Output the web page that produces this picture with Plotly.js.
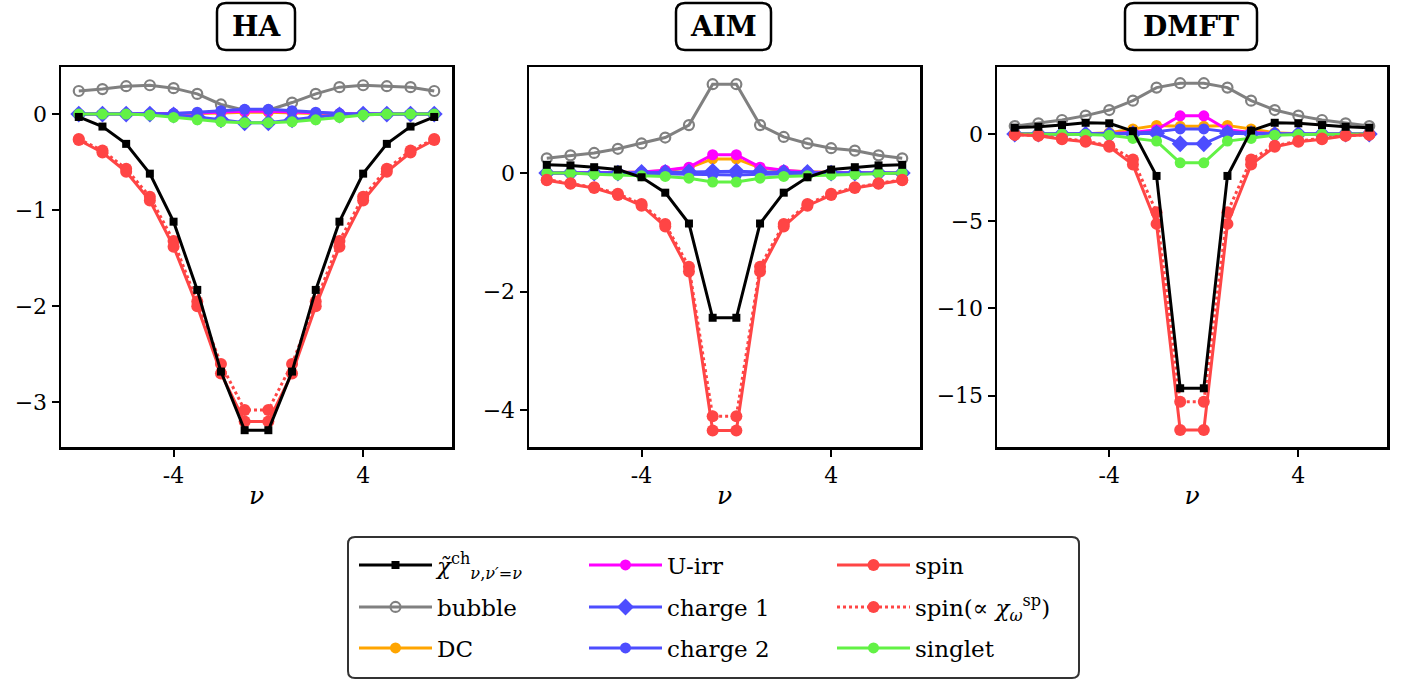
<!DOCTYPE html>
<html><head><meta charset="utf-8">
<script src="https://cdn.plot.ly/plotly-3.0.1.min.js"></script>
<style>html,body{margin:0;padding:0;background:#fff}#chart{width:1405px;height:682px}</style>
</head><body><div id="chart"></div>
<script>
// ---------------- data ----------------
const nu = [-8,-7,-6,-5,-4,-3,-2,-1,0,1,2,3,4,5,6,7];
const panelNames = ['HA','AIM','DMFT'];
const xTickVals = [-4, 4];
const xTickText = ['-4', '4'];
const yTickVals = [[0,-1,-2,-3],[0,-2,-4],[0,-5,-10,-15]];
const yTickText = [['0','\u22121','\u22122','\u22123'],['0','\u22122','\u22124'],['0','\u22125','\u221210','\u221215']];

// HA
const haChi      = [-0.03,-0.13,-0.31,-0.62,-1.12,-1.83,-2.68,-3.29,-3.29,-2.68,-1.83,-1.12,-0.62,-0.31,-0.13,-0.03];
const haBubble   = [0.24,0.26,0.29,0.30,0.27,0.21,0.10,0.04,0.04,0.12,0.21,0.28,0.30,0.29,0.28,0.24];
const haDC       = [0,0,0,0,0,0.005,0.01,0.02,0.02,0.01,0.005,0,0,0,0,0];
const haUirr     = [0,0,0,0,0.005,0.01,0.02,0.03,0.03,0.02,0.01,0.005,0,0,0,0];
const haCharge1  = [0,0,0,0,-0.01,-0.03,-0.06,-0.09,-0.09,-0.06,-0.03,-0.01,0,0,0,0];
const haCharge2  = [0,0,0,0,0.005,0.02,0.035,0.05,0.05,0.035,0.02,0.005,0,0,0,0];
const haSpin     = [-0.27,-0.40,-0.60,-0.90,-1.38,-2.00,-2.70,-3.20,-3.20,-2.70,-2.00,-1.38,-0.90,-0.60,-0.40,-0.27];
const haSpinProp = [-0.26,-0.38,-0.57,-0.86,-1.32,-1.95,-2.60,-3.08,-3.08,-2.60,-1.95,-1.32,-0.86,-0.57,-0.38,-0.26];
const haSinglet  = [0,0,0,-0.01,-0.035,-0.06,-0.08,-0.09,-0.09,-0.08,-0.06,-0.035,-0.01,0,0,0];

// AIM
const aimChi      = [0.14,0.13,0.10,0.06,-0.07,-0.33,-0.85,-2.44,-2.44,-0.85,-0.33,-0.07,0.06,0.10,0.13,0.14];
const aimBubble   = [0.25,0.30,0.34,0.41,0.50,0.60,0.81,1.50,1.50,0.81,0.61,0.50,0.42,0.38,0.30,0.25];
const aimDC       = [0,0,0,0.01,0.02,0.04,0.09,0.24,0.24,0.09,0.04,0.02,0.01,0,0,0];
const aimUirr     = [0,0,0,0.01,0.02,0.05,0.10,0.31,0.31,0.10,0.05,0.02,0.01,0,0,0];
const aimCharge1  = [0,0,0,0,0.01,0.01,0.02,0.03,0.03,0.02,0.01,0.01,0,0,0,0];
const aimCharge2  = [0,0,0,0,0,-0.01,-0.02,-0.03,-0.03,-0.02,-0.01,0,0,0,0,0];
const aimSpin     = [-0.12,-0.18,-0.25,-0.37,-0.55,-0.90,-1.66,-4.34,-4.34,-1.66,-0.90,-0.55,-0.37,-0.25,-0.18,-0.12];
const aimSpinProp = [-0.11,-0.17,-0.24,-0.35,-0.52,-0.86,-1.58,-4.10,-4.10,-1.58,-0.86,-0.52,-0.35,-0.24,-0.17,-0.11];
const aimSinglet  = [0,0,-0.02,-0.03,-0.045,-0.056,-0.085,-0.15,-0.15,-0.085,-0.056,-0.045,-0.03,-0.02,0,0];

// DMFT
const dmftChi      = [0.37,0.42,0.52,0.65,0.62,0.17,-2.40,-14.58,-14.58,-2.40,0.20,0.65,0.62,0.52,0.42,0.37];
const dmftBubble   = [0.46,0.62,0.81,1.06,1.38,1.92,2.67,2.92,2.92,2.67,1.92,1.38,1.06,0.81,0.62,0.46];
const dmftDC       = [0,0,0,0.02,0.08,0.30,0.50,0.45,0.45,0.50,0.30,0.08,0.02,0,0,0];
const dmftUirr     = [0,0,0,0,0.02,0.10,0.25,1.05,1.05,0.25,0.10,0.02,0,0,0,0];
const dmftCharge1  = [0,0,0,0,-0.02,0.02,0.05,-0.55,-0.55,0.05,0.02,-0.02,0,0,0,0];
const dmftCharge2  = [0,0,0,0,0.02,0.05,0.14,0.30,0.30,0.14,0.05,0.02,0,0,0,0];
const dmftSpin     = [-0.04,-0.10,-0.30,-0.44,-0.73,-1.75,-5.15,-16.98,-16.98,-5.15,-1.75,-0.73,-0.44,-0.30,-0.10,-0.04];
const dmftSpinProp = [-0.03,-0.08,-0.25,-0.40,-0.67,-1.45,-4.48,-15.35,-15.35,-4.48,-1.45,-0.67,-0.40,-0.25,-0.08,-0.03];
const dmftSinglet  = [0,0,0,-0.02,-0.06,-0.25,-0.40,-1.65,-1.65,-0.40,-0.25,-0.06,-0.02,0,0,0];

const seriesKeys = ['chi','bubble','DC','Uirr','charge1','charge2','spin','spinProp','singlet'];
const seriesLabels = [
  '<i>χ̃</i><sup>ch</sup><sub><i>ν</i>,<i>ν′</i>=<i>ν</i></sub>',
  'bubble','DC','U-irr','charge 1','charge 2','spin',
  'spin(∝ <i>χ</i><sub><i>ω</i></sub><sup>sp</sup>)','singlet'
];
const panelData = [
  {chi:haChi, bubble:haBubble, DC:haDC, Uirr:haUirr, charge1:haCharge1, charge2:haCharge2, spin:haSpin, spinProp:haSpinProp, singlet:haSinglet},
  {chi:aimChi, bubble:aimBubble, DC:aimDC, Uirr:aimUirr, charge1:aimCharge1, charge2:aimCharge2, spin:aimSpin, spinProp:aimSpinProp, singlet:aimSinglet},
  {chi:dmftChi, bubble:dmftBubble, DC:dmftDC, Uirr:dmftUirr, charge1:dmftCharge1, charge2:dmftCharge2, spin:dmftSpin, spinProp:dmftSpinProp, singlet:dmftSinglet}
];

// ---------------- styles ----------------
const RED = '#ff4545', BLUE = '#4d4dff', GREEN = '#62f245';
const styles = {
  chi:      {color:'#000000', symbol:'square', size:8, dash:'solid', width:3},
  bubble:   {color:'#808080', symbol:'circle-open', size:10, dash:'solid', width:3, mlw:2.2},
  DC:       {color:'#ffa500', symbol:'circle', size:11, dash:'solid', width:3},
  Uirr:     {color:'#ff00ff', symbol:'circle', size:11, dash:'solid', width:3},
  charge1:  {color:BLUE, symbol:'diamond', size:13, dash:'solid', width:3},
  charge2:  {color:BLUE, symbol:'circle', size:11, dash:'solid', width:3},
  spin:     {color:RED, symbol:'circle', size:12, dash:'solid', width:3},
  spinProp: {color:RED, symbol:'circle', size:12, dash:'dot', width:3},
  singlet:  {color:GREEN, symbol:'circle', size:11, dash:'solid', width:3}
};
const drawOrder = ['bubble','DC','Uirr','charge1','charge2','singlet','spinProp','spin','chi'];
// legend grid (column-major, as in the reference)
const legendCols = [354, 584, 832];
const legendRows = [565, 607, 648];

const W = 1405, H = 682;
const FONT = 'DejaVu Serif';
const xDomains = [[61,452],[529,920],[997,1387]];
const yTop = 67, yBot = 447;
const xRange = [-8.75, 7.75];
const yRanges = [[-3.465,0.49],[-4.62,1.79],[-17.95,3.85]];

const px = v => v / W, py = v => 1 - v / H;

const traces = [];
panelData.forEach((pd, p) => {
  drawOrder.forEach(key => {
    const s = styles[key];
    const idx = seriesKeys.indexOf(key);
    const marker = {symbol:s.symbol, size:s.size, color:s.color};
    if (s.mlw) marker.line = {color:s.color, width:s.mlw};
    traces.push({
      type:'scatter', mode:'lines+markers',
      x: nu, y: pd[key],
      xaxis: p === 0 ? 'x' : 'x' + (p+1),
      yaxis: p === 0 ? 'y' : 'y' + (p+1),
      name: seriesLabels[idx],
      line: {color:s.color, width:s.width, dash:s.dash},
      marker: marker,
      showlegend: p === 0,
      legend: idx === 0 ? 'legend' : 'legend' + (idx+1),
      hoverinfo:'skip'
    });
  });
});

const layout = {
  width: W, height: H,
  margin: {l:0, r:0, t:0, b:0},
  paper_bgcolor:'#ffffff', plot_bgcolor:'#ffffff',
  font: {family: FONT, color:'#000', size:22},
  shapes: [], annotations: []
};

for (let p = 0; p < 3; p++) {
  const xa = p === 0 ? 'xaxis' : 'xaxis' + (p+1);
  const ya = p === 0 ? 'yaxis' : 'yaxis' + (p+1);
  const yId = p === 0 ? 'y' : 'y' + (p+1);
  const xId = p === 0 ? 'x' : 'x' + (p+1);
  layout[xa] = {
    domain: [px(xDomains[p][0]), px(xDomains[p][1])], anchor: yId,
    range: xRange, tickvals: xTickVals, ticktext: xTickText,
    ticks:'outside', ticklen:7, tickwidth:2, tickcolor:'#000',
    showline:true, linewidth:2.5, linecolor:'#000', mirror:true,
    showgrid:false, zeroline:false,
    tickfont:{family:FONT, size:22, color:'#000'},
    title:{text:'<i>ν</i>', font:{family:FONT, size:25, color:'#000'}, standoff:0}
  };
  layout[ya] = {
    domain: [py(yBot), py(yTop)], anchor: xId,
    range: yRanges[p], tickvals: yTickVals[p], ticktext: yTickText[p],
    ticks:'outside', ticklen:7, tickwidth:2, tickcolor:'#000',
    showline:true, linewidth:2.5, linecolor:'#000', mirror:true,
    showgrid:false, zeroline:false,
    tickfont:{family:FONT, size:22, color:'#000'}
  };
}

function roundRect(x0, y0, x1, y1, r) {
  const rx = r / W, ry = r / H;
  const X0 = px(x0), X1 = px(x1), Y0 = py(y0), Y1 = py(y1);
  return `M${X0+rx},${Y0} L${X1-rx},${Y0} Q${X1},${Y0} ${X1},${Y0-ry} L${X1},${Y1+ry} Q${X1},${Y1} ${X1-rx},${Y1} L${X0+rx},${Y1} Q${X0},${Y1} ${X0},${Y1+ry} L${X0},${Y0-ry} Q${X0},${Y0} ${X0+rx},${Y0} Z`;
}

// panel title boxes
const titleBoxes = [[217,3,295,50],[676,3,771,50],[1125,3,1257,50]];
panelNames.forEach((name, p) => {
  const b = titleBoxes[p];
  layout.shapes.push({type:'path', xref:'paper', yref:'paper', path: roundRect(b[0],b[1],b[2],b[3],9),
    line:{color:'#000', width:2.5}, fillcolor:'#ffffff'});
  layout.annotations.push({xref:'paper', yref:'paper', x: px((b[0]+b[2])/2), y: py((b[1]+b[3])/2),
    xanchor:'center', yanchor:'middle', showarrow:false, text:'<b>'+name+'</b>',
    font:{family:FONT, size:28, color:'#000'}});
});

// legend box
layout.shapes.push({type:'path', xref:'paper', yref:'paper', path: roundRect(348,537,1079,678,7),
  line:{color:'#333333', width:2}, fillcolor:'rgba(255,255,255,0)'});

seriesKeys.forEach((key, i) => {
  const col = Math.floor(i / 3), row = i % 3;
  const lname = i === 0 ? 'legend' : 'legend' + (i+1);
  layout[lname] = {
    x: px(legendCols[col]), y: py(legendRows[row]), xanchor:'left', yanchor:'middle',
    xref:'paper', yref:'paper',
    bgcolor:'rgba(0,0,0,0)', borderwidth:0, itemwidth:73, itemsizing:'trace',
    font:{family:FONT, size:23, color:'#000'}
  };
});

Plotly.newPlot('chart', traces, layout, {staticPlot:true, displayModeBar:false});
</script>
</body></html>
